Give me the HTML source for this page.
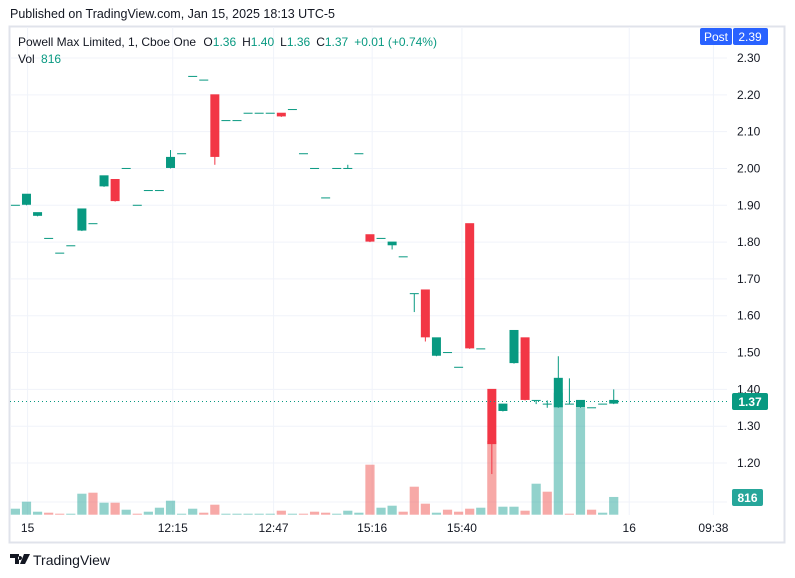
<!DOCTYPE html>
<html><head><meta charset="utf-8">
<style>
html,body{margin:0;padding:0;background:#fff;width:795px;height:578px;overflow:hidden;font-family:"Liberation Sans",sans-serif;}
svg text{font-family:"Liberation Sans",sans-serif;}
</style></head>
<body>
<svg id="chart" width="795" height="578" xmlns="http://www.w3.org/2000/svg">
  <text x="10" y="18" font-size="12.5" fill="#131722">Published on TradingView.com, Jan 15, 2025 18:13 UTC-5</text>
  <rect x="9.5" y="26.5" width="775" height="516" fill="#fff" stroke="#e0e3eb" stroke-width="2"/>
  <g id="grid"></g>
  <g id="vols"></g>
  <g id="candles"></g>
  <line x1="10" x2="727" y1="401.5" y2="401.5" stroke="#089981" stroke-width="1" stroke-dasharray="1,3"/>
  <g id="axis"></g>
  <g id="taxis"></g>
  <text x="18" y="46" font-size="12" fill="#131722">Powell Max Limited, 1, Cboe One <tspan fill="#131722" dx="4">O</tspan><tspan fill="#089981">1.36</tspan><tspan dx="6">H</tspan><tspan fill="#089981">1.40</tspan><tspan dx="6">L</tspan><tspan fill="#089981">1.36</tspan><tspan dx="6">C</tspan><tspan fill="#089981">1.37</tspan><tspan dx="6" fill="#089981">+0.01 (+0.74%)</tspan></text>
  <text x="18" y="63" font-size="12" fill="#131722">Vol <tspan fill="#089981" dx="3">816</tspan></text>
  <rect x="700" y="28" width="32" height="17" rx="2" fill="#2962ff"/>
  <text x="716" y="41" font-size="12" fill="#fff" text-anchor="middle">Post</text>
  <rect x="733" y="28" width="35" height="17" rx="2" fill="#2962ff"/>
  <text x="750" y="41" font-size="12" fill="#fff" text-anchor="middle">2.39</text>
  <rect x="732" y="393" width="36" height="17" rx="2" fill="#089981"/>
  <text x="750" y="406" font-size="12" fill="#fff" text-anchor="middle" font-weight="bold">1.37</text>
  <rect x="732" y="489" width="31" height="17" rx="2" fill="#26a69a"/>
  <text x="747.5" y="502" font-size="12" fill="#fff" text-anchor="middle" font-weight="bold">816</text>
  <g>
    <path d="M10 554h9v10h-4v-6h-5z M20 556a2 2 0 1 0 0.01 0z M24 554h6l-5 10h-5z" fill="#131722"/>
    <text x="33" y="565" font-size="14" fill="#131722">TradingView</text>
  </g>
</svg>
<script>
const opens  = [1.90,1.90,1.87,1.81,1.77,1.79,1.83,1.85,1.95,1.97,2.00,1.90,1.94,1.94,2.00,2.04,2.25,2.24,2.20,2.13,2.13,2.15,2.15,2.15,2.15,2.16,2.04,2.00,1.92,2.00,2.00,2.04,1.82,1.81,1.79,1.76,1.66,1.67,1.49,1.50,1.46,1.85,1.51,1.40,1.34,1.47,1.54,1.37,1.36,1.35,1.36,1.35,1.35,1.36,1.36];
const highs  = [1.90,1.93,1.88,1.81,1.77,1.79,1.89,1.85,1.98,1.97,2.00,1.90,1.94,1.94,2.05,2.04,2.25,2.24,2.20,2.13,2.13,2.15,2.15,2.15,2.15,2.16,2.04,2.00,1.92,2.00,2.01,2.04,1.82,1.81,1.80,1.76,1.66,1.67,1.54,1.50,1.46,1.85,1.51,1.40,1.36,1.56,1.54,1.37,1.37,1.49,1.43,1.37,1.35,1.36,1.40];
const lows   = [1.90,1.90,1.87,1.81,1.77,1.79,1.83,1.85,1.95,1.91,2.00,1.90,1.94,1.94,2.00,2.04,2.25,2.24,2.01,2.13,2.13,2.15,2.15,2.15,2.14,2.16,2.04,2.00,1.92,2.00,2.00,2.04,1.80,1.81,1.78,1.76,1.61,1.53,1.49,1.50,1.46,1.51,1.51,1.17,1.34,1.47,1.37,1.36,1.35,1.35,1.36,1.35,1.35,1.36,1.36];
const closes = [1.90,1.93,1.88,1.81,1.77,1.79,1.89,1.85,1.98,1.91,2.00,1.90,1.94,1.94,2.03,2.04,2.25,2.24,2.03,2.13,2.13,2.15,2.15,2.15,2.14,2.16,2.04,2.00,1.92,2.00,2.00,2.04,1.80,1.81,1.80,1.76,1.66,1.54,1.54,1.50,1.46,1.51,1.51,1.25,1.36,1.56,1.37,1.37,1.36,1.43,1.36,1.37,1.35,1.36,1.37];
const volumes = [276,598,138,92,46,46,966,1012,552,552,230,46,138,322,644,46,276,92,460,46,46,46,46,46,184,46,46,138,92,46,184,92,2300,322,414,138,1288,506,92,230,138,276,322,3404,368,368,184,1426,1058,5612,46,4922,230,92,816];
const priceTicks = [2.30,2.20,2.10,2.00,1.90,1.80,1.70,1.60,1.50,1.40,1.30,1.20];
const timeLabels = ["15","12:15","12:47","15:16","15:40","16","09:38"];
const timeSlots = [1.1,14.2,23.3,32.2,40.3,55.4,63.0];

const NS="http://www.w3.org/2000/svg";
const UP="#089981", DN="#f23645", VUP="rgba(38,166,154,0.5)", VDN="rgba(239,83,80,0.5)";
function y(p){return 58 + (2.30-p)*368.2;}
function x(i){return 15.4 + i*11.08;}
function vy(v){return 514.7 - v/46;}
function mk(tag,attrs,parent){const e=document.createElementNS(NS,tag);for(const k in attrs)e.setAttribute(k,attrs[k]);parent.appendChild(e);return e;}

const grid=document.getElementById('grid');
priceTicks.forEach(p=>{
  const l=mk('line',{x1:10,x2:727,y1:y(p),y2:y(p),stroke:'#f0f3fa','stroke-width':1},grid);
  
  
});
mk('line',{x1:10,x2:727,y1:502,y2:502,stroke:'#f0f3fa'},grid);
timeSlots.forEach(s=>{
  const l=mk('line',{x1:x(s),x2:x(s),y1:27,y2:515,stroke:'#f0f3fa'},grid);
  
  
});

const vols=document.getElementById('vols');
volumes.forEach((v,i)=>{
  let up = closes[i]!==opens[i] ? closes[i]>opens[i] : (i===0 || closes[i]>=closes[i-1]);
  const r=mk('rect',{x:x(i)-4.6,y:vy(v),width:9.2,height:514.7-vy(v),fill:up?VUP:VDN},vols);
  
  
});

const cg=document.getElementById('candles');
opens.forEach((o,i)=>{
  const c=closes[i], up=c>=o, col=up?UP:DN;
  const g=mk('g',{},cg);
  
  
  mk('line',{x1:x(i),x2:x(i),y1:y(highs[i]),y2:y(lows[i]),stroke:col,'stroke-width':1},g);
  const top=y(Math.max(o,c)), bot=y(Math.min(o,c));
  mk('rect',{x:x(i)-4.5,y:top-0.5,width:9,height:Math.max(1,bot-top),fill:col},g);
});

const ax=document.getElementById('axis');
priceTicks.forEach(p=>{
  const t=mk('text',{x:737,y:y(p)+4,'font-size':12,fill:'#131722'},ax);
  t.textContent=p.toFixed(2);
  
  
});
const tx=document.getElementById('taxis');
timeLabels.forEach((lab,k)=>{
  const t=mk('text',{x:x(timeSlots[k]),y:532,'font-size':12,fill:'#131722','text-anchor':'middle'},tx);
  t.textContent=lab;
  
  
});
</script>
</body></html>
